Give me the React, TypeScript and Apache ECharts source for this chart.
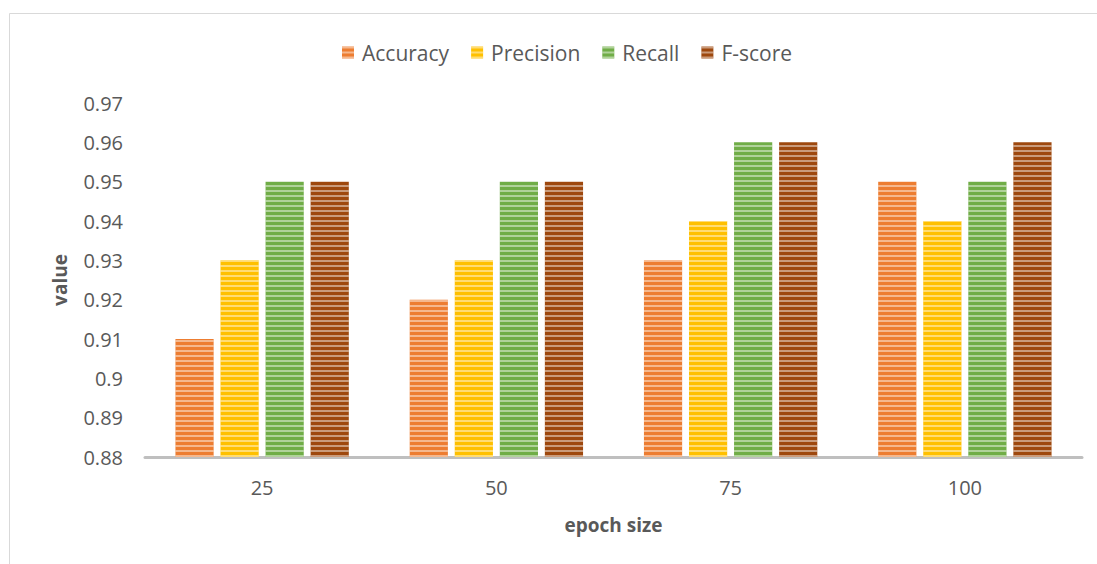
import React, { useEffect, useRef } from "react";
import * as echarts from "echarts";

const categories = ["25", "50", "75", "100"];
const accuracy = [0.91, 0.92, 0.93, 0.95];
const precision = [0.93, 0.93, 0.94, 0.94];
const recall = [0.95, 0.95, 0.96, 0.95];
const fscore = [0.95, 0.95, 0.96, 0.96];

const seriesNames = ["Accuracy", "Precision", "Recall", "F-score"];
const seriesColors = ["#ED7D31", "#FFC000", "#70AD47", "#9E480E"];
const seriesData = [accuracy, precision, recall, fscore];

const FONT = "'Open Sans', sans-serif";
const TEXT = "#595959";

export default function App() {
  const ref = useRef<HTMLDivElement>(null);

  useEffect(() => {
    if (!ref.current) return;
    const chart = echarts.init(ref.current, undefined, { renderer: "svg" });

    // horizontal light stripes over each bar
    const stripes = {
      symbol: "rect",
      symbolSize: 1,
      dashArrayX: [1, 0],
      dashArrayY: [2, 3],
      rotation: 0,
      color: "rgba(255,255,255,0.45)",
    };

    chart.setOption({
      animation: false,
      backgroundColor: "#ffffff",
      textStyle: { fontFamily: FONT, color: TEXT },
      graphic: [
        {
          type: "rect",
          shape: { x: 9.5, y: 13.5, width: 1200, height: 700 },
          style: { fill: "none", stroke: "#D9D9D9", lineWidth: 1 },
          silent: true,
          z: -10,
        },
      ],
      legend: {
        left: 337,
        top: 37,
        itemWidth: 12,
        itemHeight: 12,
        itemGap: 22,
        icon: "rect",
        textStyle: { fontFamily: FONT, fontSize: 21, color: TEXT, padding: [0, 0, 0, 3] },
        data: seriesNames,
      },
      grid: { left: 145, right: 15, top: 103, bottom: 107 },
      xAxis: {
        type: "category",
        data: categories,
        name: "epoch size",
        nameLocation: "middle",
        nameGap: 58,
        nameTextStyle: { fontFamily: FONT, fontSize: 19, fontWeight: "bold", color: TEXT },
        axisLine: { show: true, lineStyle: { color: "#BFBFBF", width: 3 } },
        axisTick: { show: false },
        axisLabel: { fontFamily: FONT, fontSize: 20, color: TEXT, margin: 20 },
      },
      yAxis: {
        type: "value",
        min: 0.88,
        max: 0.97,
        interval: 0.01,
        name: "value",
        nameLocation: "middle",
        nameGap: 76,
        nameTextStyle: { fontFamily: FONT, fontSize: 19, fontWeight: "bold", color: TEXT },
        axisLine: { show: false },
        axisTick: { show: false },
        splitLine: { show: false },
        axisLabel: {
          fontFamily: FONT,
          fontSize: 20,
          color: TEXT,
          margin: 22,
          formatter: (v: number) => String(Math.round(v * 100) / 100),
        },
      },
      series: seriesNames.map((name, i) => ({
        name,
        type: "bar",
        data: seriesData[i],
        barGap: "18%",
        barCategoryGap: "26%",
        itemStyle: { color: seriesColors[i], decal: stripes },
      })),
    });

    return () => chart.dispose();
  }, []);

  return (
    <div
      ref={ref}
      style={{ position: "fixed", left: 0, top: 0, width: 1097, height: 564 }}
    />
  );
}
